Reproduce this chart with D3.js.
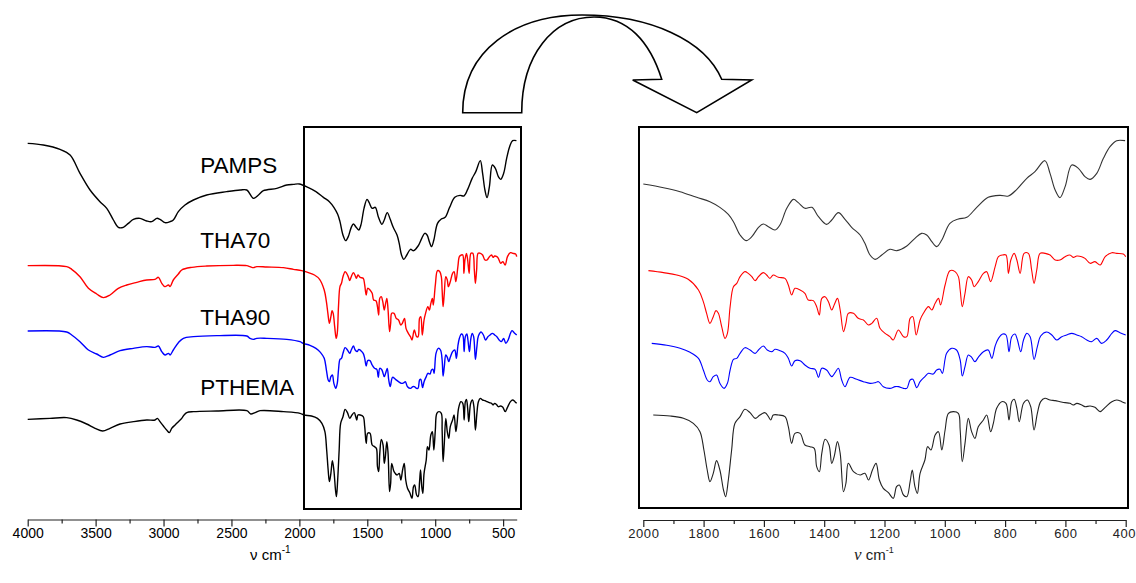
<!DOCTYPE html>
<html>
<head>
<meta charset="utf-8">
<script src="https://cdn.jsdelivr.net/npm/d3@7"></script>
<style>
  body { margin: 0; background: #fff; }
  svg { display: block; }
  text { font-family: "Liberation Sans", Arial, sans-serif; }
</style>
</head>
<body>
<svg id="chart" width="1136" height="583"></svg>
<script>
// FTIR spectra (wavenumber in cm-1, stacked transmittance in arbitrary units)
// High-wavenumber part (4000 - 2000 cm-1), shown only in the full-range panel
const pampsHigh = [[4000,109.7],[3885,109.2],[3762,107.9],[3688,106.2],[3615,100.7],[3541,95.7],[3468,92.2],[3418,90.2],[3369,86.7],[3333,84.5],[3296,84.5],[3259,85.7],[3222,86.9],[3173,87.2],[3124,86.4],[3087,86.2],[3050,87.2],[3026,86.9],[2989,85.9],[2952,86.2],[2928,86.7],[2891,89.2],[2842,91.2],[2780,92.7],[2682,94.2],[2535,95.2],[2436,95.7],[2387,95.7],[2338,93.2],[2301,94.2],[2265,95.5],[2166,96.2],[2093,97.2],[2044,97.4]];
const tha70High = [[4000,73.0],[3713,72.7],[3676,71.9],[3615,69.7],[3553,66.2],[3492,64.5],[3443,63.4],[3394,64.2],[3333,66.2],[3271,67.2],[3197,68.0],[3124,68.7],[3063,68.9],[3038,69.5],[3013,67.7],[2989,66.7],[2964,67.2],[2952,66.7],[2928,68.7],[2891,70.5],[2866,71.7],[2792,72.5],[2682,72.9],[2486,73.1],[2387,73.0],[2363,72.7],[2338,72.4],[2314,72.7],[2240,72.6],[2117,72.4],[2044,71.9]];
const tha90High = [[4000,53.4],[3713,53.1],[3676,52.2],[3615,50.2],[3553,47.7],[3492,46.5],[3443,45.5],[3394,46.2],[3320,47.5],[3222,48.2],[3124,48.7],[3063,48.5],[3038,48.9],[3013,47.2],[2989,46.2],[2964,46.7],[2952,46.2],[2928,47.7],[2891,49.9],[2854,51.2],[2780,51.7],[2608,52.0],[2387,51.9],[2363,51.2],[2338,50.9],[2314,51.2],[2240,51.2],[2093,50.9],[1995,50.2]];
const pthemaHigh = [[4000,26.9],[3836,27.2],[3713,27.4],[3639,26.7],[3566,25.5],[3504,24.2],[3448,23.4],[3394,24.2],[3320,25.5],[3222,26.2],[3124,26.7],[3063,26.7],[3045,27.2],[3026,26.2],[3001,24.9],[2977,23.7],[2957,22.9],[2940,24.2],[2915,25.2],[2891,26.2],[2866,27.2],[2849,28.2],[2829,28.9],[2780,29.2],[2608,29.4],[2387,29.5],[2358,28.5],[2326,28.9],[2289,29.5],[2117,29.2],[1995,28.7]];

// Fingerprint part (2000 - 400 cm-1), shown in both panels
const pampsLow = [[2000,97.5],[1933,96.4],[1878,95.2],[1823,93.5],[1779,92.2],[1746,90.5],[1718,88.4],[1701,86.2],[1679,82.2],[1659,80.5],[1640,81.7],[1618,84.5],[1602,85.5],[1585,84.7],[1563,83.7],[1547,85.2],[1524,90.2],[1502,92.9],[1486,91.9],[1464,90.2],[1441,90.5],[1419,87.7],[1392,85.4],[1375,86.7],[1353,88.9],[1331,86.9],[1309,84.5],[1281,82.2],[1265,79.7],[1248,76.2],[1231,74.9],[1209,76.2],[1182,77.9],[1159,77.5],[1126,78.9],[1099,81.2],[1077,82.7],[1060,82.2],[1043,80.2],[1027,78.7],[1010,80.7],[983,85.7],[955,87.0],[927,87.5],[894,90.5],[856,93.5],[817,94.1],[789,93.9],[761,95.9],[728,99.2],[701,101.2],[668,104.5],[651,100.7],[634,95.7],[618,93.4],[601,96.7],[579,103.2],[557,102.2],[535,99.7],[518,98.9],[496,100.7],[474,105.2],[452,108.7],[430,110.5],[402,110.5]];
const tha70Low = [[1983,71.5],[1933,70.9],[1889,70.2],[1851,68.9],[1817,65.7],[1801,62.2],[1790,58.7],[1779,55.7],[1768,57.7],[1759,59.5],[1751,58.7],[1740,54.7],[1729,51.2],[1721,52.7],[1712,60.7],[1701,66.7],[1690,67.7],[1679,69.7],[1663,71.2],[1652,70.7],[1640,69.7],[1629,68.5],[1618,69.7],[1602,70.9],[1591,70.2],[1580,69.2],[1569,70.2],[1552,69.5],[1530,69.2],[1519,67.2],[1508,64.2],[1497,66.2],[1480,65.7],[1464,64.7],[1453,62.7],[1436,62.5],[1425,60.7],[1416,58.2],[1408,63.2],[1397,63.7],[1386,62.2],[1375,59.7],[1367,61.2],[1356,63.2],[1347,59.7],[1336,53.2],[1328,55.7],[1320,58.7],[1303,58.7],[1287,57.2],[1270,56.7],[1253,55.2],[1242,55.7],[1226,57.2],[1215,54.2],[1198,52.7],[1182,51.7],[1171,50.7],[1154,53.7],[1137,51.7],[1126,51.7],[1115,57.2],[1106,57.7],[1095,52.2],[1082,56.7],[1071,58.7],[1054,60.7],[1043,59.7],[1032,61.7],[1021,63.2],[1014,61.2],[999,67.2],[983,71.5],[966,71.2],[955,69.7],[949,65.7],[942,60.7],[933,64.7],[922,69.7],[911,68.7],[903,66.7],[889,68.2],[872,70.7],[861,71.2],[848,68.2],[833,72.7],[822,75.7],[808,76.2],[797,76.2],[789,70.7],[781,74.7],[770,76.7],[761,74.7],[750,70.7],[737,76.7],[723,76.7],[712,71.7],[704,67.7],[695,71.7],[684,76.7],[667,76.7],[651,76.2],[634,74.7],[618,74.7],[601,75.7],[585,76.2],[574,75.5],[562,75.9],[546,75.7],[535,75.2],[518,73.7],[502,74.2],[485,73.2],[468,75.7],[446,76.9],[430,76.7],[408,76.5],[400,75.7]];
const tha90Low = [[1972,49.7],[1922,49.1],[1878,48.2],[1845,47.0],[1817,45.2],[1801,41.7],[1788,38.7],[1779,38.2],[1768,39.7],[1757,40.2],[1746,37.7],[1732,36.2],[1721,37.7],[1712,41.7],[1701,44.9],[1690,45.2],[1679,46.7],[1663,48.4],[1646,47.7],[1629,46.7],[1618,47.7],[1602,48.9],[1589,47.7],[1574,47.2],[1563,47.9],[1547,47.5],[1530,46.7],[1519,45.2],[1508,42.9],[1497,44.5],[1480,44.5],[1464,43.2],[1447,42.2],[1430,41.9],[1419,39.5],[1408,42.2],[1392,41.7],[1375,39.7],[1364,40.9],[1353,42.2],[1342,38.7],[1331,36.7],[1314,39.5],[1292,38.9],[1270,38.2],[1248,37.7],[1231,37.9],[1220,38.2],[1204,36.7],[1182,36.2],[1165,36.7],[1154,36.7],[1137,36.2],[1126,36.2],[1115,38.7],[1106,38.9],[1093,36.4],[1082,38.2],[1066,39.7],[1054,40.7],[1038,40.5],[1027,41.7],[1016,41.9],[1008,40.7],[994,46.7],[977,48.2],[961,47.7],[949,44.7],[942,39.9],[933,42.7],[922,46.2],[911,45.5],[900,44.2],[889,45.5],[872,47.2],[856,47.7],[844,45.2],[833,48.9],[822,51.2],[808,52.5],[797,52.2],[787,47.2],[778,51.7],[767,52.5],[759,50.7],[748,47.2],[739,50.7],[728,52.7],[717,51.7],[704,44.9],[693,48.7],[682,51.9],[662,53.1],[645,52.2],[629,50.7],[612,51.7],[596,52.2],[579,52.7],[562,52.2],[546,51.7],[529,50.7],[513,50.2],[496,51.2],[480,49.7],[463,50.7],[446,52.7],[435,53.5],[419,52.9],[400,52.2]];
const pthemaLow = [[1967,28.2],[1911,27.9],[1867,27.2],[1834,25.7],[1812,23.2],[1799,17.7],[1788,11.7],[1779,8.2],[1768,10.7],[1757,14.5],[1746,11.7],[1734,5.7],[1727,3.7],[1718,8.7],[1707,17.7],[1696,25.7],[1679,27.7],[1663,29.9],[1646,28.9],[1629,27.2],[1613,28.2],[1596,28.9],[1585,27.7],[1577,26.7],[1569,28.2],[1552,28.2],[1530,27.7],[1519,24.7],[1508,19.7],[1497,22.7],[1480,22.7],[1464,19.2],[1447,18.7],[1433,18.2],[1425,12.7],[1416,11.2],[1408,16.7],[1397,20.9],[1384,19.2],[1375,13.7],[1367,15.7],[1356,20.2],[1347,16.7],[1336,5.2],[1328,7.7],[1320,13.7],[1303,11.2],[1281,10.2],[1265,10.7],[1253,8.7],[1240,11.7],[1228,13.7],[1217,8.7],[1204,6.2],[1187,4.9],[1171,3.2],[1160,6.7],[1151,7.2],[1137,4.2],[1126,3.7],[1115,8.2],[1108,11.7],[1099,6.7],[1091,4.7],[1082,10.7],[1066,14.7],[1057,18.7],[1046,17.7],[1032,22.2],[1021,23.2],[1010,17.7],[999,23.7],[988,28.7],[972,29.2],[955,28.7],[949,23.7],[942,14.2],[933,19.7],[922,27.2],[911,23.2],[900,21.2],[889,24.7],[872,26.7],[861,28.2],[848,23.2],[839,25.7],[828,30.2],[811,32.2],[797,31.7],[787,26.7],[778,32.2],[770,32.9],[761,30.2],[753,26.2],[739,31.7],[726,32.7],[715,30.7],[704,23.7],[693,28.7],[682,32.2],[668,33.2],[651,32.7],[634,32.5],[618,32.2],[601,31.9],[585,31.7],[574,31.2],[562,31.7],[546,31.2],[535,30.7],[518,30.9],[502,30.5],[485,29.2],[468,30.5],[446,32.2],[430,32.7],[413,32.2],[400,31.7]];

const seriesNames = ["PAMPS", "THA70", "THA90", "PTHEMA"];
const seriesColors = ["#000000", "#ff0000", "#0000ff", "#000000"];
const rightColors = ["#333333", "#ff0000", "#0000ff", "#222222"];
const seriesHigh = [pampsHigh, tha70High, tha90High, pthemaHigh];
const seriesLow = [pampsLow, tha70Low, tha90Low, pthemaLow];

// Axis ticks
const leftMajorTicks = [4000, 3500, 3000, 2500, 2000, 1500, 1000, 500];
const leftMinorTicks = [3750, 3250, 2750, 2250, 1750, 1250, 750];
const rightMajorTicks = [2000, 1800, 1600, 1400, 1200, 1000, 800, 600, 400];
const rightMinorTicks = [1900, 1700, 1500, 1300, 1100, 900, 700, 500];

// Layout
const plotTop = 127, plotBottom = 509;
const leftAxisY = 519.5, rightAxisY = 520;
const labelAnchor = { wn: 2730, values: [100.8, 78.3, 55.2, 34.2] };

const svg = d3.select("#chart");

const y = d3.scaleLinear().domain([0, 115]).range([plotBottom, plotBottom - 115 * 10 / 3]);
const xLeft = d3.scaleLinear().domain([4000, 400]).range([27.7, 516.7]);
const xRight = d3.scaleLinear().domain([2000, 400]).range([643.3, 1125.7]);

const lineLeft = d3.line().x(d => xLeft(d[0])).y(d => y(d[1])).curve(d3.curveCatmullRom.alpha(0.5));
const lineRight = d3.line().x(d => xRight(d[0])).y(d => y(d[1])).curve(d3.curveCatmullRom.alpha(0.5));

// Full-range spectra
seriesHigh.forEach((hi, i) => {
  svg.append("path")
    .datum(hi.concat(seriesLow[i]))
    .attr("d", lineLeft)
    .attr("fill", "none")
    .attr("stroke", seriesColors[i])
    .attr("stroke-width", 1.4)
    .attr("stroke-linejoin", "round");
});

// Zoomed fingerprint spectra
seriesLow.forEach((lo, i) => {
  svg.append("path")
    .datum(lo)
    .attr("d", lineRight)
    .attr("fill", "none")
    .attr("stroke", rightColors[i])
    .attr("stroke-width", 1.1)
    .attr("stroke-linejoin", "round");
});

// Series names
seriesNames.forEach((name, i) => {
  svg.append("text")
    .attr("x", xLeft(labelAnchor.wn))
    .attr("y", y(labelAnchor.values[i]))
    .attr("font-size", 22.5)
    .attr("fill", "#000")
    .text(name);
});

// Highlight box over the fingerprint region on the full-range panel
svg.append("rect")
  .attr("x", 304).attr("y", plotTop)
  .attr("width", 521 - 304).attr("height", plotBottom - plotTop)
  .attr("fill", "none").attr("stroke", "#000").attr("stroke-width", 2);

// Frame of the zoomed panel
svg.append("rect")
  .attr("x", 639).attr("y", plotTop)
  .attr("width", 1128 - 639).attr("height", 508 - plotTop)
  .attr("fill", "none").attr("stroke", "#000").attr("stroke-width", 2);

// Bottom axes
function drawAxis(scale, yPos, major, minor, fontSize, spacing, color) {
  const g = svg.append("g").attr("transform", `translate(0,${yPos})`);
  g.call(d3.axisBottom(scale).tickValues(major).tickSize(7).tickSizeOuter(0).tickPadding(2).tickFormat(d3.format("d")));
  g.select(".domain").attr("stroke", "#222").attr("stroke-width", 1.2);
  g.selectAll(".tick line").attr("stroke", "#222").attr("stroke-width", 1.2);
  g.selectAll(".tick text")
    .attr("font-family", '"Liberation Sans", Arial, sans-serif')
    .attr("font-size", fontSize)
    .attr("letter-spacing", spacing)
    .attr("fill", color);
  const gm = svg.append("g").attr("transform", `translate(0,${yPos})`);
  gm.call(d3.axisBottom(scale).tickValues(minor).tickSize(4).tickFormat(""));
  gm.select(".domain").remove();
  gm.selectAll(".tick line").attr("stroke", "#222").attr("stroke-width", 1.2);
  return g;
}
drawAxis(xLeft, leftAxisY, leftMajorTicks, leftMinorTicks, 14, 0, "#000");
const gRight = drawAxis(xRight, rightAxisY, rightMajorTicks, rightMinorTicks, 13, 0.6, "#222");
// keep the last label inside the canvas edge
gRight.selectAll(".tick text").filter(d => d === 400).attr("text-anchor", "end").attr("x", 10);

// Axis titles
const tL = svg.append("text").attr("x", 250).attr("y", 560).attr("font-size", 15).attr("fill", "#000");
tL.append("tspan").text("ν cm");
tL.append("tspan").attr("dy", -7).attr("font-size", 10).text("-1");

const tR = svg.append("text").attr("x", 854).attr("y", 560).attr("font-size", 15).attr("fill", "#222");
tR.append("tspan").attr("font-family", '"Liberation Serif", "DejaVu Serif", serif').attr("font-style", "italic").attr("font-size", 17).text("ν");
tR.append("tspan").text(" cm");
tR.append("tspan").attr("dy", -7).attr("font-size", 9).text("-1");

// Curved block arrow from the highlighted region to the zoomed panel
const arrow = d3.path();
arrow.moveTo(462.7, 112.7);
arrow.bezierCurveTo(462.7, 50, 515, 15, 582, 15);
arrow.bezierCurveTo(650, 15, 705, 40, 721.7, 79.3);
arrow.lineTo(751.7, 80);
arrow.lineTo(696.7, 112.7);
arrow.lineTo(632.7, 80);
arrow.lineTo(661.7, 79.3);
arrow.bezierCurveTo(650, 42, 628, 17, 594, 17);
arrow.bezierCurveTo(553, 17, 521.7, 55, 521.7, 112.7);
arrow.closePath();
svg.append("path")
  .attr("d", arrow.toString())
  .attr("fill", "#fff")
  .attr("stroke", "#000")
  .attr("stroke-width", 1.6)
  .attr("stroke-linejoin", "miter");
</script>
</body>
</html>
